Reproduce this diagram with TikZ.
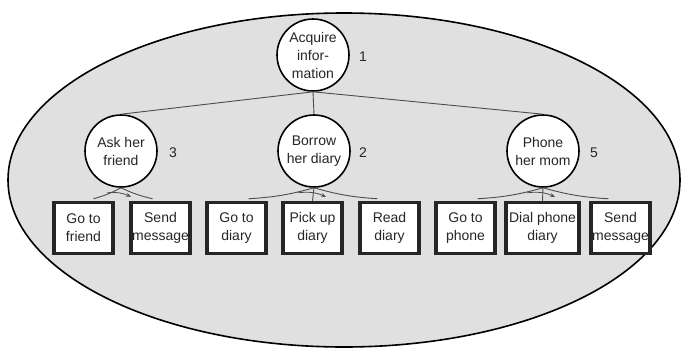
\documentclass[tikz,border=0pt]{standalone}
\usepackage{fontspec}
\setmainfont{Liberation Sans}
\usetikzlibrary{shapes.geometric,arrows.meta,calc}
\begin{document}
\begin{tikzpicture}[x=1pt,y=-1pt,
  txt/.style={font=\fontsize{14}{18}\selectfont, text=black!85, align=center},
  goal/.style={txt, circle, draw=black, line width=1.6pt, fill=white, minimum size=72pt, inner sep=0pt},
  act/.style={txt, rectangle, draw=black!85, line width=3.5pt, fill=white, minimum width=59pt, minimum height=51pt, inner sep=0pt},
  link/.style={draw=black!70, line width=0.9pt},
  seq/.style={draw=black!70, line width=0.8pt, -{Stealth[length=5pt,width=4pt]}},
  num/.style={txt}]
\useasboundingbox (0,0) rectangle (683,349);
\node[ellipse, draw=black, line width=1.6pt, fill=black!12, minimum width=672pt, minimum height=334pt] (bg) at (344,180) {};

\node[goal] (acq) at (313,55) {Acquire\\infor-\\mation};
\node[num] (n1) at (363,57) {1};

\node[goal] (ask) at (121,151) {Ask her\\friend};
\node[num] (n3) at (173,153) {3};
\node[goal] (bor) at (314,151) {Borrow\\her diary};
\node[num] (n2) at (363,153) {2};
\node[goal] (pho) at (543,151) {Phone\\her mom};
\node[num] (n5) at (594,153) {5};

\node[act] (gtf) at (83.5,228) {Go to\\friend};
\node[act] (sm1) at (160.5,228) {Send\\message};
\node[act] (gtd) at (236.5,228) {Go to\\diary};
\node[act] (pud) at (312.5,228) {Pick up\\diary};
\node[act] (rd)  at (389.5,228) {Read\\diary};
\node[act] (gtp) at (465.5,228) {Go to\\phone};
\node[act, minimum width=73pt] (dpd) at (542.5,228) {Dial phone\\diary};
\node[act] (sm2) at (620.5,228) {Send\\message};

% top level links
\draw[link] (acq.south) -- (ask.north);
\draw[link] (acq.south) -- (bor.north);
\draw[link] (acq.south) -- (pho.north);

% ask her friend
\coordinate (a1) at ($(gtf.north)+(10,-2)$);
\coordinate (a2) at ($(sm1.north)+(-8,-2)$);
\draw[link] (ask.south) to[bend left=6] (a1);
\draw[link] (ask.south) to[bend right=6] (a2);
\draw[seq] ($(ask.south)+(-14,5)$) to[bend left=15] ($(ask.south)+(10,9)$);

% borrow her diary
\coordinate (b1) at ($(gtd.north)+(12,-2)$);
\coordinate (b2) at ($(rd.north)+(-12,-2)$);
\draw[link] (bor.south) to[bend left=6] (b1);
\draw[link] (bor.south) -- (pud.north);
\draw[link] (bor.south) to[bend right=6] (b2);
\draw[seq] ($(bor.south)+(-16,5)$) to[bend left=15] ($(bor.south)+(12,9)$);

% phone her mom
\coordinate (p1) at ($(gtp.north)+(12,-2)$);
\coordinate (p2) at ($(sm2.north)+(-12,-2)$);
\draw[link] (pho.south) to[bend left=6] (p1);
\draw[link] (pho.south) -- (dpd.north);
\draw[link] (pho.south) to[bend right=6] (p2);
\draw[seq] ($(pho.south)+(-16,5)$) to[bend left=15] ($(pho.south)+(12,9)$);
\end{tikzpicture}
\end{document}
